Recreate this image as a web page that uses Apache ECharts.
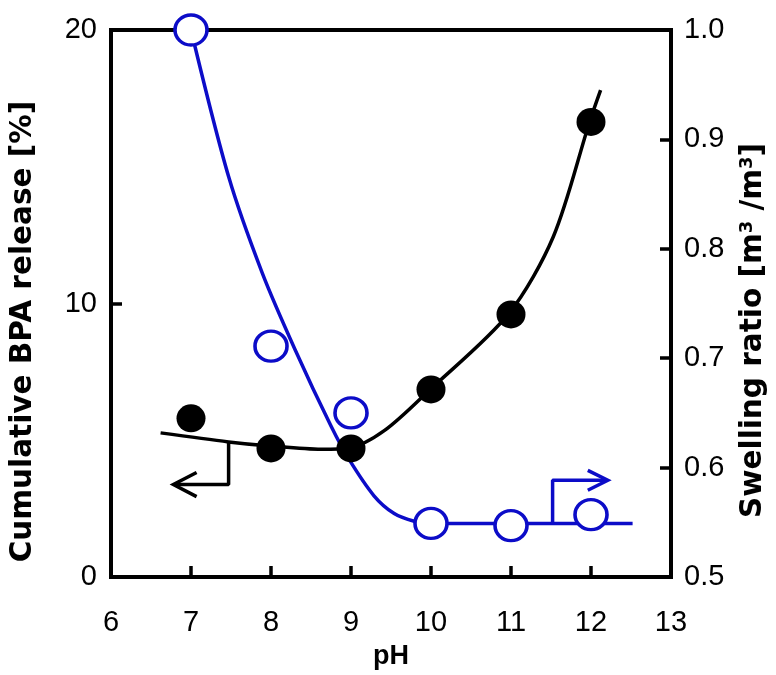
<!DOCTYPE html>
<html><head><meta charset="utf-8">
<script src="https://cdn.jsdelivr.net/npm/echarts@6/dist/echarts.min.js"></script>
<style>html,body{margin:0;padding:0;background:#fff}#c{width:776px;height:675px}</style>
</head><body><div id="c"></div>
<script>
// Measured data
const pH = [7, 8, 9, 10, 11, 12];
const bpaRelease = [5.8, 4.7, 4.7, 6.86, 9.6, 16.64];      // left axis [%]
const swelling = [1.0, 0.711, 0.650, 0.549, 0.547, 0.557];   // right axis [m3/m3]
// fitted curves
const bpaFitX = [6.62, 7.47, 7.99, 8.63, 8.98, 9.42, 9.98, 10.97, 11.53, 11.98, 12.12];
const bpaFitY = [5.27, 4.94, 4.79, 4.67, 4.72, 5.36, 6.83, 9.62, 12.45, 16.62, 17.8];
const swFitX = [7.0, 7.47, 7.89, 8.30, 8.75, 8.98, 9.29, 9.54, 9.79, 10.0, 11.0, 12.52];
const swFitY = [1.0, 0.866, 0.778, 0.708, 0.638, 0.607, 0.574, 0.558, 0.551, 0.549, 0.549, 0.549];
// annotation arrows (data coordinates)
const blackArrowX = [7.47, 7.47, 6.80];
const blackArrowY = [4.94, 3.38, 3.38];
const blackHeadX = [7.07, 6.78, 7.07];
const blackHeadY = [3.82, 3.38, 2.94];
const blueArrowX = [11.52, 11.52, 12.20];
const blueArrowY = [0.549, 0.5884, 0.5884];
const blueHeadX = [11.96, 12.21, 11.96];
const blueHeadY = [0.5975, 0.5884, 0.5793];
const xTicks = {min: 6, max: 13, interval: 1};
const yLeft = {min: 0, max: 20, interval: 10};
const yRight = {min: 0.5, max: 1.0, interval: 0.1};

const zip = (a, b) => a.map((v, i) => [v, b[i]]);
const BLUE = '#0c0cc8';
const FONT = 'Liberation Sans, Arial, sans-serif';
const TFONT = 'DejaVu Sans, Liberation Sans, sans-serif';

const chart = echarts.init(document.getElementById('c'));
chart.setOption({
  animation: false,
  backgroundColor: '#fff',
  grid: {left: 108, right: 104, top: 30, bottom: 83, show: true, borderColor: '#000', borderWidth: 4, backgroundColor: 'transparent'},
  xAxis: {
    type: 'value', min: xTicks.min, max: xTicks.max, interval: xTicks.interval,
    name: 'pH', nameLocation: 'middle', nameGap: 66,
    nameTextStyle: {fontFamily: FONT, fontSize: 27, fontWeight: 'bold', color: '#000'},
    axisLine: {show: true, lineStyle: {color: '#000', width: 4}},
    axisTick: {show: true, inside: true, length: 11, lineStyle: {color: '#000', width: 3.5}},
    axisLabel: {fontFamily: FONT, fontSize: 29, color: '#000', margin: 31},
    splitLine: {show: false}
  },
  yAxis: [{
    type: 'value', position: 'left', min: yLeft.min, max: yLeft.max, interval: yLeft.interval,
    name: 'Cumulative BPA release [%]', nameLocation: 'middle', nameGap: 73, nameRotate: 90,
    nameTextStyle: {fontFamily: TFONT, fontSize: 29.5, fontWeight: 'bold', color: '#000', padding: [0, 56, 0, 0]},
    axisLine: {show: true, lineStyle: {color: '#000', width: 4}},
    axisTick: {show: true, inside: true, length: 11, lineStyle: {color: '#000', width: 3.5}},
    axisLabel: {fontFamily: FONT, fontSize: 29, color: '#000', margin: 14},
    splitLine: {show: false}
  }, {
    type: 'value', position: 'right', min: yRight.min, max: yRight.max, interval: yRight.interval,
    name: 'Swelling ratio [m{sup|3} /m{sup|3}]', nameLocation: 'middle', nameGap: 67, nameRotate: 90,
    nameTextStyle: {fontFamily: TFONT, fontSize: 29.5, fontWeight: 'bold', color: '#000', padding: [0, 54, 0, 0],
      rich: {sup: {fontFamily: TFONT, fontSize: 18, fontWeight: 'bold', color: '#000', verticalAlign: 'top', padding: [0, 0, 12, 0]}}},
    axisLine: {show: true, lineStyle: {color: '#000', width: 4}},
    axisTick: {show: true, inside: true, length: 11, lineStyle: {color: '#000', width: 3.5}},
    axisLabel: {fontFamily: FONT, fontSize: 29, color: '#000', margin: 13, formatter: v => v.toFixed(1)},
    splitLine: {show: false}
  }],
  series: [
    {type: 'line', yAxisIndex: 1, data: zip(swFitX, swFitY), smooth: 0.3, showSymbol: false, symbol: 'none',
      lineStyle: {color: BLUE, width: 3.5}, z: 2},
    {type: 'line', yAxisIndex: 0, data: zip(bpaFitX, bpaFitY), smooth: 0.3, showSymbol: false, symbol: 'none',
      lineStyle: {color: '#000', width: 3.5}, z: 3},
    {type: 'line', yAxisIndex: 0, data: zip(blackArrowX, blackArrowY), symbol: 'none', lineStyle: {color: '#000', width: 3.5}, z: 3},
    {type: 'line', yAxisIndex: 0, data: zip(blackHeadX, blackHeadY), symbol: 'none', lineStyle: {color: '#000', width: 3.5, join: 'miter'}, z: 3},
    {type: 'line', yAxisIndex: 1, data: zip(blueArrowX, blueArrowY), symbol: 'none', lineStyle: {color: BLUE, width: 3.5}, z: 2},
    {type: 'line', yAxisIndex: 1, data: zip(blueHeadX, blueHeadY), symbol: 'none', lineStyle: {color: BLUE, width: 3.5, join: 'miter'}, z: 2},
    {type: 'scatter', yAxisIndex: 1, data: zip(pH, swelling), symbol: 'circle', symbolSize: [32, 30],
      itemStyle: {color: '#fff', borderColor: BLUE, borderWidth: 3.5, opacity: 1}, z: 4},
    {type: 'scatter', yAxisIndex: 0, data: zip(pH, bpaRelease), symbol: 'circle', symbolSize: [29, 28],
      itemStyle: {color: '#000', opacity: 1}, z: 5}
  ]
});
</script></body></html>
